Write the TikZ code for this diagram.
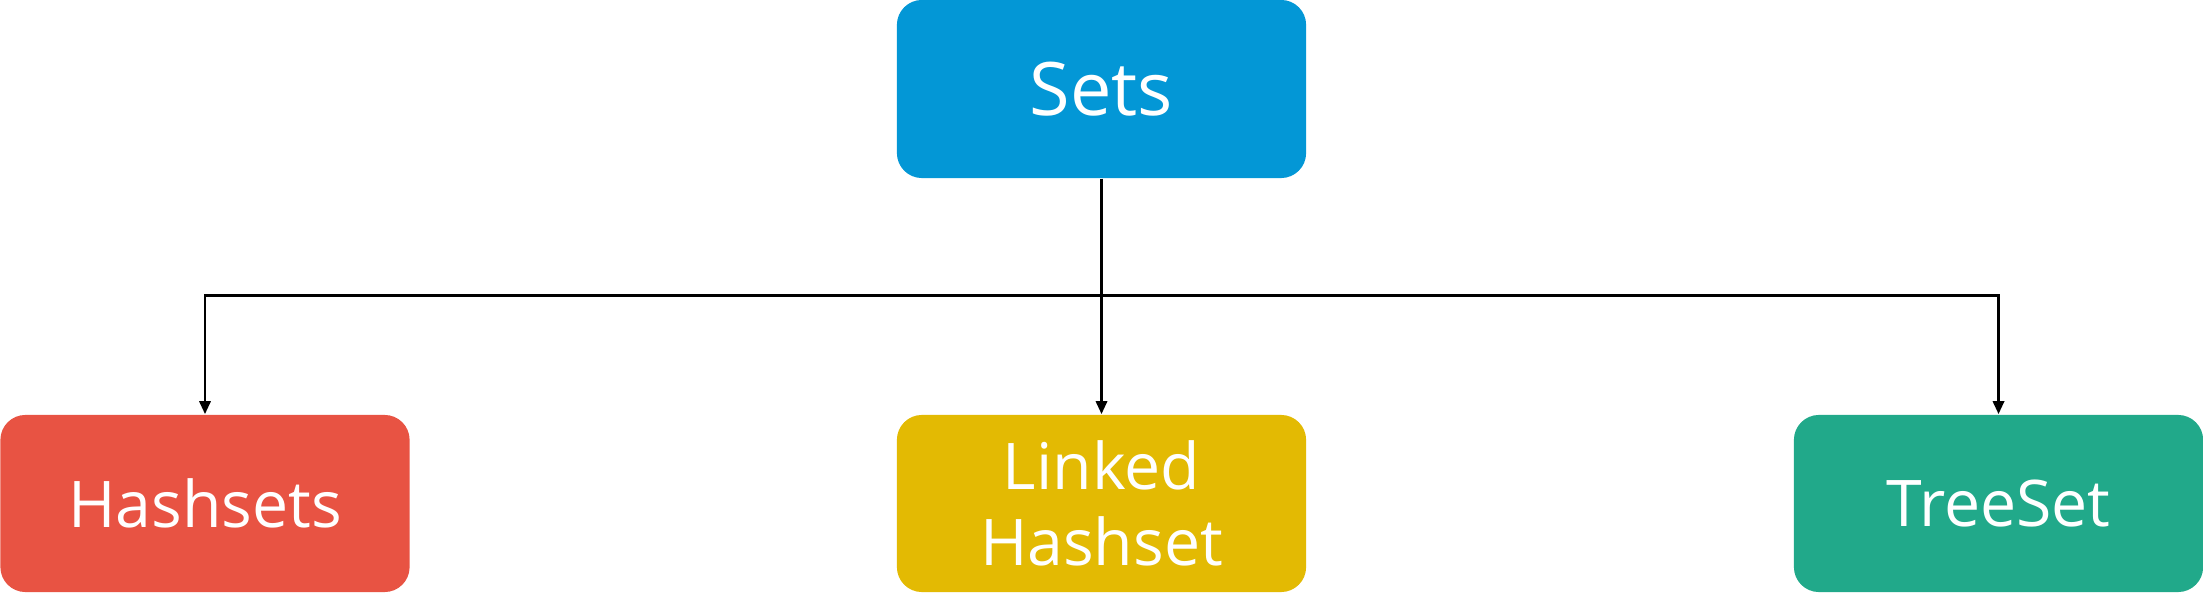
\documentclass[tikz,border=0pt]{standalone}
\usepackage{fontspec}
\setmainfont{Open Sans}
\usetikzlibrary{arrows.meta}

\definecolor{setsblue}{RGB}{3,151,214}
\definecolor{hashred}{RGB}{232,83,67}
\definecolor{linkedyellow}{RGB}{227,186,3}
\definecolor{treegreen}{RGB}{33,169,138}

\tikzset{
  setbox/.style={rounded corners=0.25cm, minimum width=4.09cm, minimum height=1.77cm,
    inner sep=0pt, text=white, align=center,
    font=\fontsize{18.3}{21.5}\selectfont},
  rootbox/.style={setbox, minimum height=1.78cm, font=\fontsize{21}{25}\selectfont},
  link/.style={line width=0.85pt, -{Triangle[length=0.13cm, width=0.11cm]}}
}

\begin{document}
\begin{tikzpicture}[x=0.01cm, y=-0.01cm]
\useasboundingbox (0,0) rectangle (2203,616);
\node[rootbox, fill=setsblue] (sets) at (1101.5,89) {Sets};
\node[setbox, fill=hashred] (hashsets) at (205,503.5) {Hashsets};
\node[setbox, fill=linkedyellow] (linked) at (1101.5,503.5) {Linked\\Hashset};
\node[setbox, fill=treegreen] (treeset) at (1998.5,503.5) {TreeSet};
\coordinate (split) at (1101.5,296);
\draw[link] (sets) -- (linked);
\draw[link] (split) -| (hashsets);
\draw[link] (split) -| (treeset);
\end{tikzpicture}
\end{document}
